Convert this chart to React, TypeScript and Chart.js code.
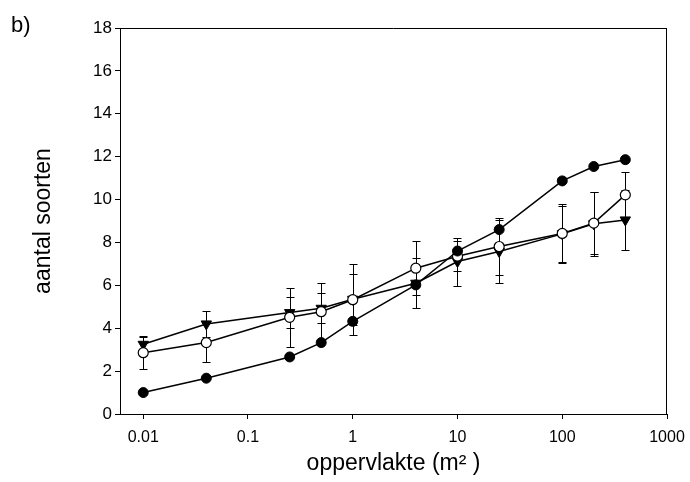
import React, { useEffect, useRef } from "react";
import { Chart, registerables } from "chart.js";

Chart.register(...registerables);

const areas = [0.01, 0.04, 0.25, 0.5, 1, 4, 10, 25, 100, 200, 400];
const filledValues = [1.0, 1.67, 2.66, 3.33, 4.32, 6.02, 7.6, 8.6, 10.87, 11.54, 11.86];
const openValues = [2.86, 3.33, 4.51, 4.77, 5.33, 6.8, 7.36, 7.81, 8.42, 8.9, 10.22];
const openErrors = [0.78, 0.9, 1.38, 1.33, 1.65, 1.27, 0.7, 1.32, 1.37, 1.45, 1.08];
const triangleValues = [3.25, 4.2, 4.73, 4.93, 5.35, 6.1, 7.11, 7.58, 8.4, 8.87, 9.05];
const triangleErrors = [0.35, 0.6, 0.74, 0.7, 1.2, 1.17, 1.12, 1.48, 1.3, 1.48, 1.4];
const xTickValues = [0.01, 0.1, 1, 10, 100, 1000];
const xTickLabels = ["0.01", "0.1", "1", "10", "100", "1000"];

const FONT = "'Liberation Sans', Arial, sans-serif";

const toPoints = (vals: number[]) => areas.map((a, i) => ({ x: a, y: vals[i] }));

const errorBarPlugin = {
  id: "errorBars",
  beforeDatasetsDraw(chart: any) {
    const ctx = chart.ctx;
    const xs = chart.scales.x;
    const ys = chart.scales.y;
    ctx.save();
    ctx.strokeStyle = "#000";
    ctx.lineWidth = 1;
    chart.data.datasets.forEach((ds: any) => {
      const errs: number[] | undefined = ds.errors;
      if (!errs) return;
      ds.data.forEach((p: any, i: number) => {
        const px = Math.round(xs.getPixelForValue(p.x)) + 0.5;
        const top = Math.round(ys.getPixelForValue(p.y + errs[i])) + 0.5;
        const bot = Math.round(ys.getPixelForValue(p.y - errs[i])) + 0.5;
        ctx.beginPath();
        ctx.moveTo(px, top);
        ctx.lineTo(px, bot);
        ctx.moveTo(px - 4, top);
        ctx.lineTo(px + 4, top);
        ctx.moveTo(px - 4, bot);
        ctx.lineTo(px + 4, bot);
        ctx.stroke();
      });
    });
    ctx.restore();
  },
  afterDraw(chart: any) {
    const ctx = chart.ctx;
    const { left, right, top, bottom } = chart.chartArea;
    ctx.save();
    ctx.strokeStyle = "#000";
    ctx.lineWidth = 1;
    ctx.beginPath();
    ctx.moveTo(left, top + 0.5);
    ctx.lineTo(right, top + 0.5);
    ctx.moveTo(right - 0.5, top);
    ctx.lineTo(right - 0.5, bottom);
    ctx.stroke();
    ctx.fillStyle = "#000";
    ctx.font = `22px ${FONT}`;
    ctx.textBaseline = "alphabetic";
    ctx.textAlign = "left";
    ctx.fillText("b)", 11, 32);
    ctx.restore();
  },
};

export default function App() {
  const ref = useRef<HTMLCanvasElement | null>(null);

  useEffect(() => {
    document.body.style.margin = "0";
    if (!ref.current) return;
    const chart = new Chart(ref.current, {
      type: "line",
      data: {
        datasets: [
          {
            label: "filled",
            data: toPoints(filledValues),
            borderColor: "#000",
            borderWidth: 1.5,
            backgroundColor: "#000",
            pointStyle: "circle",
            pointRadius: 5,
            pointBackgroundColor: "#000",
            pointBorderColor: "#000",
            pointBorderWidth: 1,
          },
          {
            label: "open",
            data: toPoints(openValues),
            errors: openErrors,
            borderColor: "#000",
            borderWidth: 1.5,
            pointStyle: "circle",
            pointRadius: 5,
            pointBackgroundColor: "#fff",
            pointBorderColor: "#000",
            pointBorderWidth: 1.2,
          } as any,
          {
            label: "triangle",
            data: toPoints(triangleValues),
            errors: triangleErrors,
            borderColor: "#000",
            borderWidth: 1.5,
            pointStyle: "triangle",
            pointRotation: 180,
            pointRadius: 6,
            pointBackgroundColor: "#000",
            pointBorderColor: "#000",
            pointBorderWidth: 1,
          } as any,
        ],
      },
      options: {
        animation: false,
        responsive: false,
        maintainAspectRatio: false,
        layout: { padding: { top: 28, right: 23, bottom: 0, left: 0 } },
        plugins: { legend: { display: false }, tooltip: { enabled: false } },
        elements: { line: { tension: 0 } },
        scales: {
          x: {
            type: "logarithmic",
            min: 0.006,
            max: 1000,
            afterBuildTicks: (scale: any) => {
              scale.ticks = xTickValues.map((v) => ({ value: v }));
            },
            afterFit: (scale: any) => {
              scale.height = 68;
            },
            ticks: {
              autoSkip: false,
              maxRotation: 0,
              color: "#000",
              padding: 5,
              font: { family: FONT, size: 16, lineHeight: 1.7 },
              callback: (value: any) => {
                const idx = xTickValues.indexOf(Number(value));
                return idx >= 0 ? xTickLabels[idx] : "";
              },
            },
            grid: {
              drawOnChartArea: false,
              drawTicks: true,
              tickLength: 5,
              color: "#000",
            },
            border: { display: true, color: "#000", width: 1 },
            title: {
              display: true,
              text: "oppervlakte (m² )",
              color: "#000",
              font: { family: FONT, size: 23 },
              padding: { top: 0, bottom: 5 },
            },
          },
          y: {
            type: "linear",
            min: 0,
            max: 18,
            afterFit: (scale: any) => {
              scale.width = 120;
            },
            ticks: {
              stepSize: 2,
              color: "#000",
              padding: 3,
              font: { family: FONT, size: 17 },
            },
            grid: {
              drawOnChartArea: false,
              drawTicks: true,
              tickLength: 5,
              color: "#000",
            },
            border: { display: true, color: "#000", width: 1 },
            title: {
              display: true,
              text: "aantal soorten",
              color: "#000",
              font: { family: FONT, size: 23 },
              padding: { top: 30, bottom: 0 },
            },
          },
        },
      },
      plugins: [errorBarPlugin],
    });
    return () => chart.destroy();
  }, []);

  return (
    <div style={{ width: 690, height: 482 }}>
      <canvas ref={ref} width={690} height={482} style={{ display: "block" }} />
    </div>
  );
}
